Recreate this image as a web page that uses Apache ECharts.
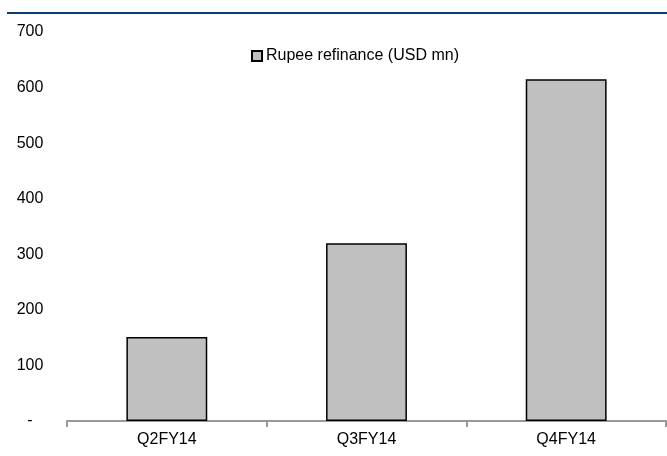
<!DOCTYPE html>
<html>
<head>
<meta charset="utf-8">
<script src="https://cdn.jsdelivr.net/npm/echarts@6/dist/echarts.min.js"></script>
<style>html,body{margin:0;padding:0;background:#fff;}#c{width:667px;height:456px;}</style>
</head>
<body>
<div id="c"></div>
<script>
const categories = ['Q2FY14', 'Q3FY14', 'Q4FY14'];
const seriesName = 'Rupee refinance (USD mn)';
const values = [151, 320, 615];
const yTicks = [0, 100, 200, 300, 400, 500, 600, 700];

const chart = echarts.init(document.getElementById('c'));
const font = 'Liberation Sans, Arial, sans-serif';
chart.setOption({
  animation: false,
  backgroundColor: '#fff',
  graphic: [{
    type: 'rect', left: 7, top: 12, shape: { width: 660, height: 2 },
    style: { fill: '#0c3d6e' }
  }],
  legend: {
    data: [seriesName],
    left: 246, top: 43,
    itemWidth: 10, itemHeight: 10, itemGap: 4,
    textStyle: { fontFamily: font, fontSize: 16, color: '#000', padding: [0, 0, 0, -1] },
    icon: 'rect'
  },
  grid: { left: 67, right: 1, top: 32, bottom: 35, containLabel: false },
  xAxis: {
    type: 'category', data: categories,
    axisLine: { lineStyle: { color: '#999', width: 2 } },
    axisTick: { show: true, length: 6, lineStyle: { color: '#999', width: 2 } },
    axisLabel: { fontFamily: font, fontSize: 16, color: '#000', margin: 11 }
  },
  yAxis: {
    type: 'value', min: 0, max: 700, interval: 100,
    splitLine: { show: false },
    axisLine: { show: false }, axisTick: { show: false },
    axisLabel: {
      fontFamily: font, fontSize: 16, color: '#000', align: 'center', margin: 37,
      formatter: v => yTicks.includes(v) ? (v === 0 ? '-' : String(v)) : ''
    }
  },
  series: [{
    name: seriesName, type: 'bar', data: values, barWidth: '40.5%',
    itemStyle: { color: '#c0c0c0', borderColor: '#000', borderWidth: 1.5 }
  }]
});
</script>
</body>
</html>
